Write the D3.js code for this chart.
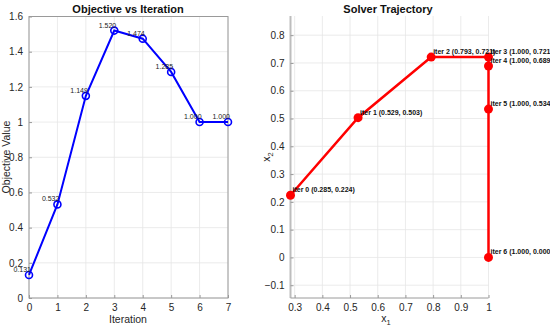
<!DOCTYPE html>
<html>
<head>
<meta charset="utf-8">
<script src="https://cdn.jsdelivr.net/npm/d3@7"></script>
<style>
  body { margin: 0; background: #fff; }
  text { font-family: Arial, "Liberation Sans", sans-serif; }
</style>
</head>
<body>
<script>
// left panel data
var iterations = [0, 1, 2, 3, 4, 5, 6, 7];
var objective = [0.131, 0.532, 1.149, 1.520, 1.474, 1.285, 1.000, 1.000];
var objTicksX = [0, 1, 2, 3, 4, 5, 6, 7];
var objTicksY = [0, 0.2, 0.4, 0.6, 0.8, 1, 1.2, 1.4, 1.6];

// right panel data
var trajIter = [0, 1, 2, 3, 4, 5, 6];
var trajX1 = [0.285, 0.529, 0.793, 1.000, 1.000, 1.000, 1.000];
var trajX2 = [0.224, 0.503, 0.721, 0.721, 0.689, 0.534, 0.000];
var trajTicksX = [0.3, 0.4, 0.5, 0.6, 0.7, 0.8, 0.9, 1];
var trajTicksY = [-0.1, 0, 0.1, 0.2, 0.3, 0.4, 0.5, 0.6, 0.7, 0.8];

var svg = d3.select('body').append('svg').attr('width', 550).attr('height', 328);

var gridCol = '#e6e6e6', axCol = '#9a9a9a', txtCol = '#262626';

function fmt(v) { return d3.format('.1f')(v).replace(/\.0$/, '').replace('-', '\u2212'); }

// ---------- left: Objective vs Iteration ----------
var xL = d3.scaleLinear().domain([0, 7]).range([29, 228]);
var yL = d3.scaleLinear().domain([0, 1.6]).range([298, 16.5]);
var gL = svg.append('g');

gL.selectAll('.gx').data(objTicksX).enter().append('line')
  .attr('x1', d => xL(d)).attr('x2', d => xL(d)).attr('y1', yL(0)).attr('y2', yL(1.6))
  .attr('stroke', gridCol).attr('stroke-width', 0.8);
gL.selectAll('.gy').data(objTicksY).enter().append('line')
  .attr('x1', xL(0)).attr('x2', xL(7)).attr('y1', d => yL(d)).attr('y2', d => yL(d))
  .attr('stroke', gridCol).attr('stroke-width', 0.8);

gL.append('rect').attr('x', xL(0)).attr('y', yL(1.6)).attr('width', xL(7) - xL(0)).attr('height', yL(0) - yL(1.6))
  .attr('fill', 'none').attr('stroke', axCol).attr('stroke-width', 1);

// ticks
gL.append('g').attr('transform', 'translate(0,' + yL(0) + ')')
  .call(d3.axisBottom(xL).tickValues(objTicksX).tickSize(-3).tickPadding(6).tickFormat(d3.format('d')))
  .call(g => g.select('.domain').remove());
gL.append('g').attr('transform', 'translate(' + xL(0) + ',0)')
  .call(d3.axisLeft(yL).tickValues(objTicksY).tickSize(-3).tickPadding(6).tickFormat(fmt))
  .call(g => g.select('.domain').remove());

gL.append('path').datum(iterations)
  .attr('d', d3.line().x(d => xL(d)).y((d, i) => yL(objective[i])))
  .attr('fill', 'none').attr('stroke', '#0000ff').attr('stroke-width', 2);
gL.selectAll('.pt').data(iterations).enter().append('circle')
  .attr('cx', d => xL(d)).attr('cy', (d, i) => yL(objective[i])).attr('r', 3.5)
  .attr('fill', 'none').attr('stroke', '#0000ff').attr('stroke-width', 1.6);
gL.selectAll('.lb').data(iterations).enter().append('text')
  .attr('x', d => xL(d) + 2).attr('y', (d, i) => yL(objective[i]) - 3)
  .attr('text-anchor', 'end').attr('font-size', 7).attr('fill', '#222')
  .text((d, i) => objective[i].toFixed(3));

gL.append('text').attr('x', 128).attr('y', 13).attr('text-anchor', 'middle')
  .attr('font-size', 11).attr('font-weight', 'bold').attr('fill', '#111').text('Objective vs Iteration');
gL.append('text').attr('x', 128).attr('y', 323).attr('text-anchor', 'middle')
  .attr('font-size', 10.5).attr('fill', txtCol).text('Iteration');
gL.append('text').attr('transform', 'translate(9.5,157) rotate(-90)').attr('text-anchor', 'middle')
  .attr('font-size', 10.5).attr('fill', txtCol).text('Objective Value');

// ---------- right: Solver Trajectory ----------
var xR = d3.scaleLinear().domain([0.285, 1]).range([290.5, 488.5]);
var yR = d3.scaleLinear().domain([-0.146, 0.869]).range([298, 16]);
var gR = svg.append('g');

gR.selectAll('.gx').data(trajTicksX).enter().append('line')
  .attr('x1', d => xR(d)).attr('x2', d => xR(d)).attr('y1', yR.range()[0]).attr('y2', yR.range()[1])
  .attr('stroke', gridCol).attr('stroke-width', 0.8);
gR.selectAll('.gy').data(trajTicksY).enter().append('line')
  .attr('x1', xR.range()[0]).attr('x2', xR.range()[1]).attr('y1', d => yR(d)).attr('y2', d => yR(d))
  .attr('stroke', gridCol).attr('stroke-width', 0.8);

gR.append('line').attr('x1', xR.range()[0]).attr('x2', xR.range()[0]).attr('y1', yR.range()[0]).attr('y2', yR.range()[1])
  .attr('stroke', '#bdbdbd').attr('stroke-width', 2);
gR.append('line').attr('x1', xR.range()[0]).attr('x2', xR.range()[1]).attr('y1', yR.range()[0]).attr('y2', yR.range()[0])
  .attr('stroke', axCol).attr('stroke-width', 1);

gR.append('g').attr('transform', 'translate(0,' + yR.range()[0] + ')')
  .call(d3.axisBottom(xR).tickValues(trajTicksX).tickSize(-3).tickPadding(6).tickFormat(fmt))
  .call(g => g.select('.domain').remove());
gR.append('g').attr('transform', 'translate(' + xR.range()[0] + ',0)')
  .call(d3.axisLeft(yR).tickValues(trajTicksY).tickSize(-3).tickPadding(6).tickFormat(fmt))
  .call(g => g.select('.domain').remove());

gR.append('path').datum(trajIter)
  .attr('d', d3.line().x((d, i) => xR(trajX1[i])).y((d, i) => yR(trajX2[i])))
  .attr('fill', 'none').attr('stroke', '#ff0000').attr('stroke-width', 2.5);
gR.selectAll('.pt').data(trajIter).enter().append('circle')
  .attr('cx', (d, i) => xR(trajX1[i])).attr('cy', (d, i) => yR(trajX2[i])).attr('r', 4.5)
  .attr('fill', '#ff0000');
gR.selectAll('.lb').data(trajIter).enter().append('text')
  .attr('x', (d, i) => xR(trajX1[i]) + 2).attr('y', (d, i) => yR(trajX2[i]) - 3)
  .attr('font-size', 7).attr('font-weight', 'bold').attr('fill', '#111')
  .text((d, i) => 'iter ' + d + ' (' + trajX1[i].toFixed(3) + ', ' + trajX2[i].toFixed(3) + ')');

gR.append('text').attr('x', 388).attr('y', 13).attr('text-anchor', 'middle')
  .attr('font-size', 11).attr('font-weight', 'bold').attr('fill', '#111').text('Solver Trajectory');
var t1 = gR.append('text').attr('x', 386).attr('y', 322).attr('text-anchor', 'middle')
  .attr('font-size', 10.5).attr('fill', txtCol);
t1.append('tspan').text('x');
t1.append('tspan').attr('font-size', 7.5).attr('dy', 3).text('1');
var t2 = gR.append('text').attr('transform', 'translate(270,157) rotate(-90)').attr('text-anchor', 'middle')
  .attr('font-size', 10.5).attr('fill', txtCol);
t2.append('tspan').text('x');
t2.append('tspan').attr('font-size', 7.5).attr('dy', 3).text('2');

svg.selectAll('.tick text').attr('font-size', 10).attr('fill', txtCol).attr('font-family', 'Arial, Liberation Sans, sans-serif');
svg.selectAll('.tick line').attr('stroke', axCol);
</script>
</body>
</html>
